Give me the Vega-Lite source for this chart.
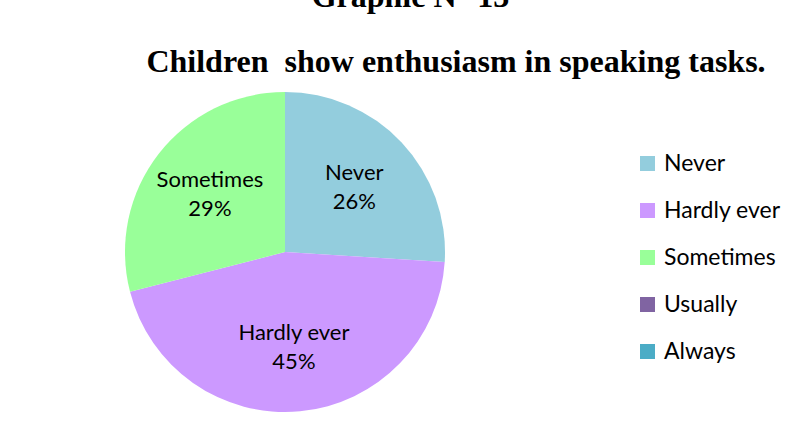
{
  "$schema": "https://vega.github.io/schema/vega-lite/v6.json",
  "padding": {"left": 10, "top": -19, "right": 0, "bottom": 0},
  "background": "white",
  "title": {
    "text": "Graphic N° 13",
    "font": "Liberation Serif",
    "fontSize": 32,
    "fontWeight": "bold",
    "color": "black",
    "anchor": "middle",
    "baseline": "alphabetic",
    "offset": 7,
    "dx": 15
  },
  "config": {"view": {"stroke": null}},
  "vconcat": [
    {
      "width": 550,
      "height": 320,
      "title": {
        "text": "Children\u00a0 show enthusiasm in speaking tasks.",
        "font": "Liberation Serif",
        "fontSize": 32,
        "fontWeight": "bold",
        "color": "black",
        "anchor": "middle",
        "baseline": "alphabetic",
        "offset": -12,
        "dx": 171
      },
      "data": {
        "values": [
          {"category": "Never", "value": 0.26, "rank": 1},
          {"category": "Hardly ever", "value": 0.45, "rank": 2},
          {"category": "Sometimes", "value": 0.29, "rank": 3},
          {"category": "Usually", "value": 0, "rank": 4},
          {"category": "Always", "value": 0, "rank": 5}
        ]
      },
      "encoding": {
        "theta": {"field": "value", "type": "quantitative", "stack": true},
        "order": {"field": "rank", "type": "quantitative"}
      },
      "layer": [
        {
          "mark": {"type": "arc", "outerRadius": 160},
          "encoding": {
            "color": {
              "field": "category",
              "type": "nominal",
              "sort": ["Never", "Hardly ever", "Sometimes", "Usually", "Always"],
              "scale": {
                "domain": ["Never", "Hardly ever", "Sometimes", "Usually", "Always"],
                "range": ["#93CDDD", "#CC99FF", "#99FF99", "#8064A2", "#4BACC6"]
              },
              "legend": {
                "orient": "none",
                "legendX": 626,
                "legendY": 60,
                "title": null,
                "labelFont": "Lato",
                "labelFontSize": 23,
                "labelColor": "black",
                "symbolType": "square",
                "symbolSize": 225,
                "symbolStrokeWidth": 0,
                "rowPadding": 23,
                "labelOffset": 5
              }
            }
          }
        },
        {
          "transform": [{"filter": "datum.value > 0"}],
          "mark": {"type": "text", "radius": 95, "font": "Lato", "fontSize": 22, "color": "black", "dy": -14},
          "encoding": {
            "detail": {"field": "category", "type": "nominal"},
            "text": {"field": "category", "type": "nominal"}
          }
        },
        {
          "transform": [{"filter": "datum.value > 0"}],
          "mark": {"type": "text", "radius": 95, "font": "Lato", "fontSize": 22, "color": "black", "dy": 15},
          "encoding": {
            "detail": {"field": "category", "type": "nominal"},
            "text": {"field": "value", "type": "quantitative", "format": ".0%"}
          }
        }
      ]
    }
  ]
}
